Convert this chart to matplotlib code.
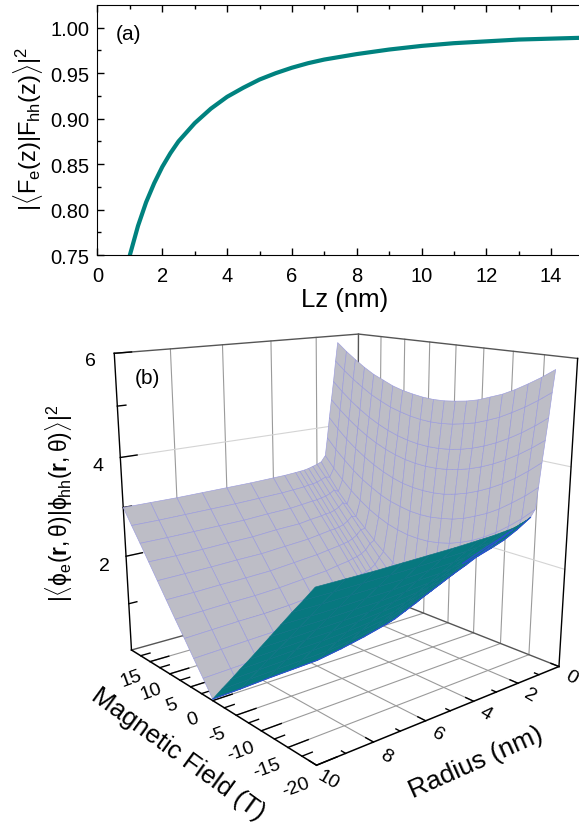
"""Two panel figure: overlap vs well width (a) and overlap surface vs radius and field (b)."""
import numpy as np
import matplotlib
matplotlib.use('Agg')
import matplotlib.pyplot as plt
from mpl_toolkits.mplot3d import proj3d

plt.rcParams['font.family'] = ['Liberation Sans', 'DejaVu Sans']
plt.rcParams['mathtext.fontset'] = 'custom'
plt.rcParams['mathtext.rm'] = 'Liberation Sans'
plt.rcParams['mathtext.it'] = 'Liberation Sans'
plt.rcParams['mathtext.bf'] = 'Liberation Sans:bold'

W, H = 579, 828

# ---- Data: panel (a) ----
lz = [1, 1.25, 1.5, 1.75, 2, 2.25, 2.5, 2.75, 3, 3.5, 4, 4.5, 5, 5.5, 6, 6.5, 7, 7.5, 8, 9, 10, 11, 12, 13, 14, 15]
overlap = [.750, .782, .808, .829, .847, .862, .875, .885, .895, .911, .924, .934, .943, .950, .956,
           .961, .965, .968, .971, .976, .980, .983, .985, .987, .988, .989]

# ---- Data: panel (b), values read at |B| = 0, 2, ... 20 T for each radius ----
radius = [10, 9, 8, 7, 6, 5, 4, 3.5, 3, 2.8, 2.6, 2.4, 2.2, 2.0, 1.8, 1.6, 1.5, 1.4, 1.3, 1.2, 1.1, 1.0]
field_half = [0, 2, 4, 6, 8, 10, 12, 14, 16, 18, 20]
surface_half = [
    [.03, .33, .62, .92, 1.21, 1.51, 1.81, 2.11, 2.41, 2.70, 3.00],
    [.05, .35, .64, .94, 1.23, 1.52, 1.82, 2.11, 2.41, 2.70, 3.00],
    [.08, .37, .66, .96, 1.25, 1.54, 1.83, 2.12, 2.42, 2.71, 3.00],
    [.10, .39, .68, .97, 1.26, 1.55, 1.85, 2.14, 2.43, 2.72, 3.01],
    [.12, .41, .70, 1.00, 1.29, 1.57, 1.86, 2.15, 2.44, 2.73, 3.02],
    [.20, .48, .77, 1.05, 1.34, 1.62, 1.90, 2.19, 2.47, 2.75, 3.03],
    [.30, .57, .85, 1.12, 1.39, 1.67, 1.94, 2.21, 2.49, 2.77, 3.05],
    [.36, .63, .90, 1.17, 1.44, 1.71, 1.98, 2.25, 2.52, 2.79, 3.06],
    [.42, .69, .95, 1.22, 1.48, 1.75, 2.02, 2.28, 2.55, 2.81, 3.08],
    [.45, .71, .98, 1.24, 1.51, 1.77, 2.03, 2.30, 2.56, 2.83, 3.09],
    [.48, .74, 1.00, 1.27, 1.53, 1.79, 2.05, 2.31, 2.58, 2.84, 3.10],
    [.53, .79, 1.05, 1.31, 1.57, 1.83, 2.08, 2.34, 2.60, 2.86, 3.12],
    [.62, .87, 1.13, 1.38, 1.63, 1.89, 2.14, 2.39, 2.64, 2.90, 3.15],
    [.80, 1.04, 1.28, 1.51, 1.75, 1.99, 2.23, 2.47, 2.70, 2.94, 3.18],
    [1.20, 1.30, 1.45, 1.62, 1.80, 2.00, 2.20, 2.42, 2.65, 2.92, 3.22],
    [2.10, 2.11, 2.15, 2.21, 2.30, 2.41, 2.55, 2.71, 2.90, 3.11, 3.35],
    [2.60, 2.61, 2.65, 2.70, 2.78, 2.89, 3.01, 3.16, 3.34, 3.53, 3.75],
    [3.10, 3.11, 3.14, 3.20, 3.28, 3.38, 3.50, 3.64, 3.80, 3.99, 4.20],
    [3.60, 3.61, 3.64, 3.69, 3.76, 3.85, 3.96, 4.09, 4.24, 4.41, 4.60],
    [4.00, 4.01, 4.04, 4.09, 4.16, 4.25, 4.36, 4.49, 4.64, 4.81, 5.00],
    [4.50, 4.51, 4.54, 4.59, 4.65, 4.74, 4.84, 4.97, 5.11, 5.27, 5.45],
    [4.95, 4.96, 4.99, 5.03, 5.09, 5.18, 5.27, 5.39, 5.53, 5.68, 5.85],
]

r_major = [0, 2, 4, 6, 8, 10]
r_minor = [1, 3, 5, 7, 9]
b_major = [-20, -15, -10, -5, 0, 5, 10, 15]
b_minor = [-17.5, -12.5, -7.5, -2.5, 2.5, 7.5, 12.5, 17.5]
z_major = [2, 4, 6]
z_minor = [1, 3, 5]

TEAL = '#00827f'
GREY = '#bdbdc6'
MESH = '#9c9cdc'
UNDER = '#07787f'
UNDER_MESH = '#0f7486'
FOLD = '#2a50d0'
BOX = '#555555'
GRID = '#9a9a9a'

fig = plt.figure(figsize=(W / 100, H / 100), dpi=100)

# ---- Panel (a) ----
ax = fig.add_axes([97.5 / W, 1 - 256 / H, 486 / W, 250 / H])
ax.plot(lz, overlap, color=TEAL, lw=3)
ax.set_xlim(0, 15)
ax.set_ylim(0.75, 1.025)
ax.set_xticks(range(0, 15, 2))
ax.set_xticks(range(1, 15, 2), minor=True)
ax.set_yticks([.75, .8, .85, .9, .95, 1.0])
ax.set_yticklabels(['0.75', '0.80', '0.85', '0.90', '0.95', '1.00'])
ax.set_yticks([.775, .825, .875, .925, .975], minor=True)
ax.tick_params(which='both', direction='in', top=True, right=False, labelsize=14.5, width=1)
ax.tick_params(which='major', length=5)
ax.tick_params(which='minor', length=3)
ax.tick_params(axis='x', pad=8)
ax.tick_params(axis='y', pad=6)
fig.text(345 / W, 1 - 300 / H, 'Lz (nm)', fontsize=18.5, ha='center', va='center')
fig.text(28 / W, 1 - 129 / H, r'$|\langle F_e(z)|F_{hh}(z)\rangle|^2$', fontsize=17,
         rotation=90, ha='center', va='center')
ax.text(0.55, 0.994, '(a)', fontsize=15, va='center')

# ---- Panel (b) ----
SIZE = 529.3
ax3 = fig.add_axes([(333.9 - SIZE / 2) / W, (H - 521.2 - SIZE / 2) / H, SIZE / W, SIZE / H],
                   projection='3d', computed_zorder=False)
ax3.set_xlim(0, 10, view_margin=0)
ax3.set_ylim(20, -20, view_margin=0)
ax3.set_zlim(0, 6, view_margin=0)
ax3.set_box_aspect((1, 1.005, 0.993))
ax3.view_init(15.244, 50.376)
ax3.set_proj_type('persp', focal_length=0.357)
ax3.set_axis_off()
ax3.patch.set_visible(False)
fig.canvas.draw()


def label3d(r, b, z, s, rot=0, size=14):
    x, y, _ = proj3d.proj_transform(r, b, z, ax3.get_proj())
    ax3.text2D(x, y, s, transform=ax3.transData, fontsize=size, rotation=rot, ha='center', va='center',
               rotation_mode='anchor')


# walls and floor
for r in r_major[1:-1]:
    ax3.plot([r, r], [20, 20], [0, 6], color=GRID, lw=0.8, zorder=1)
    ax3.plot([r, r], [-20, 20], [0, 0], color=GRID, lw=0.8, zorder=1)
for b in b_major[1:]:
    ax3.plot([0, 0], [b, b], [0, 6], color=GRID, lw=0.8, zorder=1)
    ax3.plot([0, 10], [b, b], [0, 0], color=GRID, lw=0.8, zorder=1)
for z in z_major[:2]:
    ax3.plot([10, 0, 0], [20, 20, -20], [z, z, z], color='#d4d4d4', lw=0.8, zorder=1)

ax3.plot([10, 0, 0], [20, 20, -20], [6, 6, 6], color=BOX, lw=1, zorder=1)
ax3.plot([10, 0, 0], [20, 20, -20], [0, 0, 0], color=BOX, lw=1, zorder=1)
ax3.plot([0, 0], [20, 20], [0, 6], color=BOX, lw=1, zorder=1)
ax3.plot([10, 10], [20, 20], [0, 6], color='black', lw=1, zorder=1)
ax3.plot([0, 0], [-20, -20], [0, 6], color='black', lw=1, zorder=1)
ax3.plot([10, 10, 0], [20, -20, -20], [0, 0, 0], color='black', lw=1.1, zorder=1)

# ticks
for b in b_major:
    ax3.plot([10, 9.3], [b, b], [0, 0], color='black', lw=1, zorder=1)
for b in b_minor:
    ax3.plot([10, 9.65], [b, b], [0, 0], color='black', lw=1, zorder=1)
for r in r_major:
    ax3.plot([r, r], [-20, -18.7], [0, 0], color='black', lw=1, zorder=1)
for r in r_minor:
    ax3.plot([r, r], [-20, -19.3], [0, 0], color='black', lw=1, zorder=1)
for z in z_major:
    ax3.plot([10, 9.4], [20, 20], [z, z], color='black', lw=1, zorder=1)
for z in z_minor:
    ax3.plot([10, 9.7], [20, 20], [z, z], color='black', lw=1, zorder=1)

# surface: grey where the upper side faces the viewer, teal where the lower side does
half = np.array(surface_half)
field = np.r_[-np.array(field_half[:0:-1]), field_half]
zz = np.hstack([half[:, :0:-1], half])
bb, rr = np.meshgrid(field, radius)
px, py, _ = proj3d.proj_transform(rr.ravel(), bb.ravel(), zz.ravel(), ax3.get_proj())
px, py = px.reshape(rr.shape), py.reshape(rr.shape)
area = ((px[1:, 1:] - px[:-1, :-1]) * (py[:-1, 1:] - py[1:, :-1])
        - (px[:-1, 1:] - px[1:, :-1]) * (py[1:, 1:] - py[:-1, :-1]))
is_top = np.sign(area) == np.sign(area[0, -1])
to_rgba = matplotlib.colors.to_rgba
faces = np.where(is_top[..., None], np.array(to_rgba(GREY)), np.array(to_rgba(UNDER)))
edges = np.where(is_top[..., None], np.array(to_rgba(MESH)), np.array(to_rgba(UNDER_MESH)))
surf = ax3.plot_surface(rr, bb, zz, rstride=1, cstride=1, facecolors=faces, shade=False,
                        linewidth=0.45, zorder=2, antialiased=True)
surf.set_edgecolors(edges.reshape(-1, 4))

# fold between the two sides
for i in range(is_top.shape[0]):
    for j in range(is_top.shape[1]):
        if j + 1 < is_top.shape[1] and is_top[i, j] != is_top[i, j + 1]:
            ax3.plot(rr[i:i + 2, j + 1], bb[i:i + 2, j + 1], zz[i:i + 2, j + 1], color=FOLD, lw=0.8, zorder=3)
        if i + 1 < is_top.shape[0] and is_top[i, j] != is_top[i + 1, j]:
            ax3.plot(rr[i + 1, j:j + 2], bb[i + 1, j:j + 2], zz[i + 1, j:j + 2], color=FOLD, lw=0.8, zorder=3)

# tick labels
for b in b_major:
    label3d(10.7, b, -0.23, f'{b}', rot=20)
for r in r_major:
    label3d(r, -22, -0.12, f'{r}', rot=-30)
for z in z_major:
    label3d(10.8, 20, z - 0.09, f'{z}')

fig.text(178 / W, 1 - 754 / H, 'Magnetic Field (T)', fontsize=18.5, rotation=-36, ha='center', va='center',
         rotation_mode='anchor')
fig.text(476 / W, 1 - 763 / H, 'Radius (nm)', fontsize=19, rotation=24, ha='center', va='center',
         rotation_mode='anchor')
fig.text(59.5 / W, 1 - 503 / H, r'$|\langle\phi_e(\mathbf{r},\theta)|\phi_{hh}(\mathbf{r},\theta)\rangle|^2$',
         fontsize=16.5, rotation=90, ha='center', va='center')
fig.text(147 / W, 1 - 379 / H, '(b)', fontsize=15, ha='center', va='center')

fig.savefig('out.png', dpi=100)
